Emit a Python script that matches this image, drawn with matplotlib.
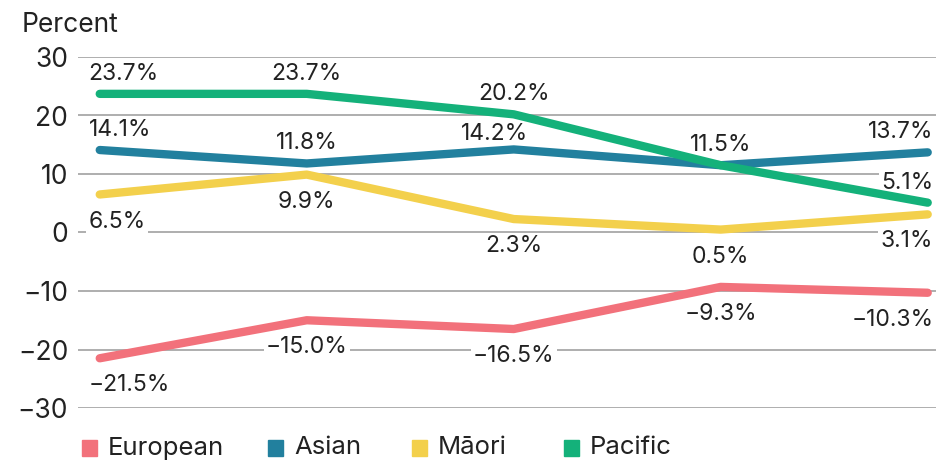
import matplotlib.pyplot as plt
from matplotlib.patches import Rectangle

plt.rcParams['font.family'] = ['Inter', 'DejaVu Sans']

# data (percent change by ethnicity)
periods = [0, 1, 2, 3, 4]
series_names = ["European", "Asian", "Māori", "Pacific"]
european = [-21.5, -15.0, -16.5, -9.3, -10.3]
asian = [14.1, 11.8, 14.2, 11.5, 13.7]
maori = [6.5, 9.9, 2.3, 0.5, 3.1]
pacific = [23.7, 23.7, 20.2, 11.5, 5.1]
y_ticks = [-30, -20, -10, 0, 10, 20, 30]

colors = {"European": "#F2717B", "Asian": "#22809E", "Māori": "#F3D04C", "Pacific": "#14B17A"}
values = {"European": european, "Asian": asian, "Māori": maori, "Pacific": pacific}
label_above = {"European": False, "Asian": True, "Māori": False, "Pacific": True}

fig = plt.figure(figsize=(9.36, 4.62), dpi=100)
ax = fig.add_axes([78 / 936, 1 - 408 / 462, 1 - 78 / 936, (408 - 57) / 462])

ax.set_xlim(-0.105, 4.04)
ax.set_ylim(-30, 30)
ax.set_yticks(y_ticks)
ax.set_xticks([])
ax.yaxis.grid(True, color="#A8A8A8", linewidth=1.3)
ax.set_axisbelow(True)
for s in ax.spines.values():
    s.set_visible(False)
ax.tick_params(axis="y", length=0, pad=7, labelsize=19, labelcolor="#222222")

# lines
for name in ["European", "Māori", "Asian", "Pacific"]:
    ax.plot(periods, values[name], color=colors[name], linewidth=6,
            solid_capstyle="round", solid_joinstyle="round", zorder=4)

# data labels
last = len(periods) - 1
for name in series_names:
    for i, v in zip(periods, values[name]):
        dy = 14.5 if label_above[name] else -19.5
        if i == 0:
            ha, dx = "left", -8
        elif i == last:
            ha, dx = "right", 4
        else:
            ha, dx = "center", 0
        if name == "Asian" and i == 2:
            dx, dy = -14, 11
        txt = f"{v:.1f}%".replace("-", "\u2212")
        ax.annotate(txt, (i, v), xytext=(dx, dy), textcoords="offset points",
                    ha=ha, va="center", fontsize=16.5, color="#222222",
                    bbox=dict(boxstyle="square,pad=0.1", fc="white", ec="none"),
                    zorder=3, annotation_clip=False)

fig.text(22 / 936, 1 - 25 / 462, "Percent", fontsize=19, color="#222222", va="center", ha="left")

# legend
sq_x = [82, 268, 412, 564]
for name, x in zip(series_names, sq_x):
    fig.patches.append(Rectangle((x / 936, 1 - 456 / 462), 15 / 936, 16 / 462,
                                 transform=fig.transFigure, color=colors[name]))
    fig.text((x + 26) / 936, 1 - 448 / 462, name, fontsize=18.5, color="#222222",
             va="center", ha="left")

fig.savefig("out.png", dpi=100)
